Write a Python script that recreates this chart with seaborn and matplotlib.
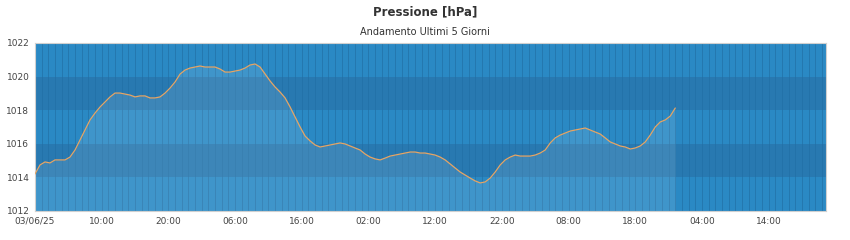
import matplotlib
matplotlib.use("Agg")
import matplotlib.pyplot as plt
import seaborn as sns
import pandas as pd

title = "Pressione [hPa]"
subtitle = "Andamento Ultimi 5 Giorni"

pressure = [
    1014.20, 1014.74, 1014.92, 1014.86, 1015.04, 1015.04, 1015.04, 1015.21, 1015.63, 1016.23,
    1016.82, 1017.42, 1017.83, 1018.19, 1018.49, 1018.79, 1019.02, 1019.02, 1018.96, 1018.90,
    1018.79, 1018.85, 1018.85, 1018.73, 1018.73, 1018.79, 1019.02, 1019.32, 1019.68, 1020.15,
    1020.39, 1020.51, 1020.57, 1020.63, 1020.57, 1020.57, 1020.57, 1020.45, 1020.27, 1020.27,
    1020.33, 1020.39, 1020.51, 1020.69, 1020.75, 1020.57, 1020.15, 1019.74, 1019.38, 1019.08,
    1018.73, 1018.19, 1017.60, 1017.00, 1016.46, 1016.17, 1015.93, 1015.81, 1015.87, 1015.93,
    1015.99, 1016.05, 1015.99, 1015.87, 1015.75, 1015.63, 1015.39, 1015.21, 1015.10, 1015.04,
    1015.15, 1015.27, 1015.33, 1015.39, 1015.45, 1015.51, 1015.51, 1015.45, 1015.45, 1015.39,
    1015.33, 1015.21, 1015.04, 1014.80, 1014.56, 1014.32, 1014.14, 1013.96, 1013.79, 1013.67,
    1013.73, 1013.96, 1014.32, 1014.74, 1015.04, 1015.21, 1015.33, 1015.27, 1015.27, 1015.27,
    1015.33, 1015.45, 1015.63, 1016.05, 1016.35, 1016.52, 1016.64, 1016.76, 1016.82, 1016.88,
    1016.94, 1016.82, 1016.70, 1016.58, 1016.35, 1016.11, 1015.99, 1015.87, 1015.81, 1015.69,
    1015.75, 1015.87, 1016.11, 1016.52, 1017.00, 1017.30, 1017.42, 1017.65, 1018.13,
]
sample_step_h = 0.75
hours = [i * sample_step_h for i in range(len(pressure))]

y_ticks = [1012, 1014, 1016, 1018, 1020, 1022]
y_labels = ["1012", "1014", "1016", "1018", "1020", "1022"]
x_ticks = [0, 10, 20, 30, 40, 50, 60, 70, 80, 90, 100, 110]
x_labels = ["03/06/25", "10:00", "20:00", "06:00", "16:00", "02:00",
            "12:00", "22:00", "08:00", "18:00", "04:00", "14:00"]
x_max = 118.6

df = pd.DataFrame({"ore": hours, "hPa": pressure})

sns.set_theme(style="white")
plt.rcParams['font.family'] = ['DejaVu Sans']

fig = plt.figure(figsize=(8.5, 2.4), dpi=100)
ax = fig.add_axes([35/850, 1 - 211/240, (826-35)/850, (211-43)/240])

light = "#2a89c4"
dark = "#2879b1"
for i in range(len(y_ticks) - 1):
    ax.axhspan(y_ticks[i], y_ticks[i+1], color=light if i % 2 == 0 else dark, lw=0, zorder=0)
for h in range(0, int(x_max) + 1):
    ax.axvline(h, color="#2270a6", lw=0.6, alpha=0.8, zorder=1)

ax.fill_between(df["ore"], df["hPa"], y_ticks[0], color="white", alpha=0.1, lw=0, zorder=2)
sns.lineplot(data=df, x="ore", y="hPa", ax=ax, color="#e6a565", lw=0.9, zorder=3)

ax.set_xlim(0, x_max)
ax.set_ylim(y_ticks[0], y_ticks[-1])
ax.set_xticks(x_ticks)
ax.set_xticklabels(x_labels, fontsize=6.5, color="#444444")
ax.set_yticks(y_ticks)
ax.set_yticklabels(y_labels, fontsize=6.5, color="#444444")
ax.tick_params(axis="both", length=0, pad=4)
ax.set_xlabel("")
ax.set_ylabel("")
for s in ax.spines.values():
    s.set_color("#d0d0d0")
    s.set_linewidth(0.8)

fig.text(0.5, 1 - 12/240, title, ha="center", va="center", fontsize=8.5, color="#333333", fontweight="bold")
fig.text(0.5, 1 - 32/240, subtitle, ha="center", va="center", fontsize=7, color="#333333")

fig.savefig("out.png", dpi=100)
